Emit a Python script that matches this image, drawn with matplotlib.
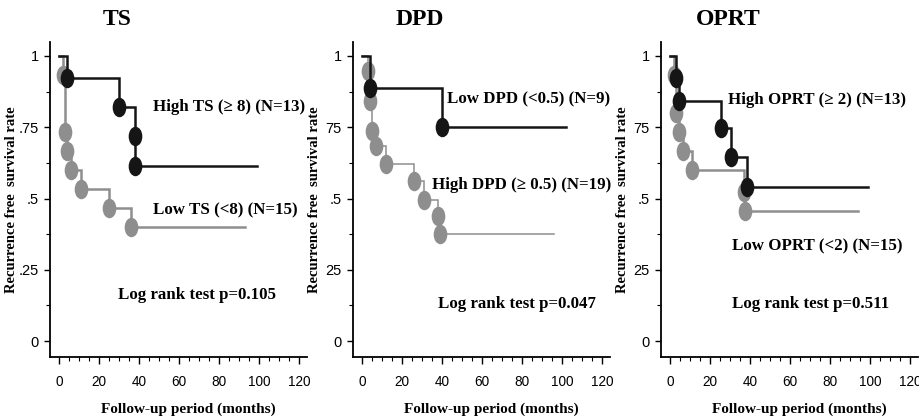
import matplotlib
matplotlib.use('Agg')
import matplotlib.pyplot as plt
from matplotlib.path import Path
from matplotlib.transforms import Affine2D
from matplotlib.ticker import MultipleLocator, FixedLocator

# Kaplan-Meier curves: event times (months) and survival after each event
ts_high_t = [4, 30, 38, 38]
ts_high_s = [0.923, 0.82, 0.72, 0.615]
ts_high_end = 99
ts_low_t = [2, 3, 4, 6, 11, 25, 36]
ts_low_s = [0.933, 0.733, 0.667, 0.6, 0.533, 0.467, 0.4]
ts_low_end = 93

dpd_low_t = [4, 40]
dpd_low_s = [0.889, 0.75]
dpd_low_end = 102
dpd_high_t = [3, 4, 5, 7, 12, 26, 31, 38, 39]
dpd_high_s = [0.947, 0.842, 0.737, 0.684, 0.62, 0.56, 0.495, 0.437, 0.375]
dpd_high_end = 96

oprt_high_t = [3, 4.5, 25.5, 30.5, 38.5]
oprt_high_s = [0.923, 0.842, 0.748, 0.644, 0.539]
oprt_high_end = 99
oprt_low_t = [2, 3, 4.5, 6.5, 11, 37, 37.5]
oprt_low_s = [0.933, 0.8, 0.733, 0.667, 0.6, 0.524, 0.456]
oprt_low_end = 94

titles = ['TS', 'DPD', 'OPRT']
xticks = [0, 20, 40, 60, 80, 100, 120]
yticks = [0, 0.25, 0.5, 0.75, 1]
ytick_labels = [['0', '.25', '.5', '.75', '1'],
                ['0', '25', '.5', '75', '1'],
                ['0', '25', '.5', '75', '1']]

BLACK = '#151515'
GRAY = '#8e8e8e'
serif = ['Liberation Serif', 'DejaVu Serif']
narrow = ['Liberation Sans Narrow', 'Liberation Sans', 'DejaVu Sans']

ellipse = Path.unit_circle().transformed(Affine2D().scale(0.68, 1.0))

panels = [
    dict(curves=[(ts_low_t, ts_low_s, ts_low_end, GRAY, 1.8),
                 (ts_high_t, ts_high_s, ts_high_end, BLACK, 1.8)],
         labels=[('High TS (\u2265 8) (N=13)', 47, 0.82),
                 ('Low TS (<8) (N=15)', 47, 0.46),
                 ('Log rank test p=0.105', 29.5, 0.16)]),
    dict(curves=[(dpd_high_t, dpd_high_s, dpd_high_end, GRAY, 1.1),
                 (dpd_low_t, dpd_low_s, dpd_low_end, BLACK, 1.8)],
         labels=[('Low DPD (<0.5) (N=9)', 42.3, 0.848),
                 ('High DPD (\u2265 0.5) (N=19)', 34.8, 0.547),
                 ('Log rank test p=0.047', 38, 0.13)]),
    dict(curves=[(oprt_low_t, oprt_low_s, oprt_low_end, GRAY, 1.8),
                 (oprt_high_t, oprt_high_s, oprt_high_end, BLACK, 1.8)],
         labels=[('High OPRT (\u2265 2) (N=13)', 29, 0.845),
                 ('Low OPRT (<2) (N=15)', 31, 0.333),
                 ('Log rank test p=0.511', 31, 0.13)]),
]

fig = plt.figure(figsize=(9.2, 4.2), dpi=100)
lefts = [50, 353, 661]

for i, p in enumerate(panels):
    ax = fig.add_axes([lefts[i] / 920, 63 / 420, 257 / 920, 315 / 420])
    for t, s, end, col, lw in p['curves']:
        xs = [0] + t + [end]
        ys = [1] + s + [s[-1]]
        ax.step(xs, ys, where='post', color=col, lw=lw, solid_joinstyle='miter')
        ax.plot(t, s, ls='none', marker=ellipse, ms=13, color=col, mec=col)
    for txt, x, y in p['labels']:
        ax.text(x, y, txt, fontfamily=serif, fontweight='bold', fontsize=12.2,
                va='center', ha='left', clip_on=False)

    ax.set_xlim(-4.5, 124)
    ax.set_ylim(-0.056, 1.049)
    ax.spines['top'].set_visible(False)
    ax.spines['right'].set_visible(False)
    ax.spines['left'].set_linewidth(1.3)
    ax.spines['bottom'].set_linewidth(1.3)

    ax.xaxis.set_major_locator(FixedLocator(xticks))
    ax.xaxis.set_minor_locator(MultipleLocator(5))
    ax.yaxis.set_major_locator(FixedLocator(yticks))
    ax.yaxis.set_minor_locator(MultipleLocator(0.125))
    ax.set_yticklabels(ytick_labels[i])
    ax.tick_params(axis='x', which='major', length=5, width=1, pad=8, labelsize=9.8)
    ax.tick_params(axis='x', which='minor', length=3, width=0.8)
    ax.tick_params(axis='y', which='major', length=4, width=1, pad=4, labelsize=10.5)
    ax.tick_params(axis='y', which='minor', length=3, width=0.8)
    for lab in ax.get_xticklabels() + ax.get_yticklabels():
        lab.set_fontfamily(narrow)

    ax.set_title(titles[i], fontfamily=serif, fontweight='bold', fontsize=17, pad=12, x=0.26)
    ax.set_xlabel('Follow-up period (months)', fontfamily=serif, fontweight='bold', fontsize=11)
    ax.xaxis.set_label_coords(0.54, -0.145)
    ax.set_ylabel('Recurrence free  survival rate', fontfamily=serif, fontweight='bold', fontsize=10.5)
    ax.yaxis.set_label_coords(-0.125, 0.5)

fig.savefig('out.png', dpi=100)
